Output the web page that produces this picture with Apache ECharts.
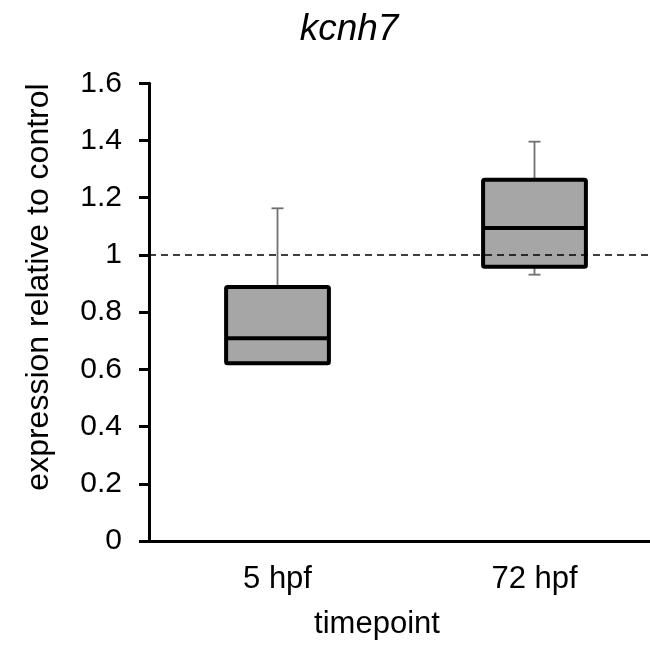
<!DOCTYPE html>
<html>
<head>
<meta charset="utf-8">
<script src="https://cdn.jsdelivr.net/npm/echarts@6/dist/echarts.min.js"></script>
<style>html,body{margin:0;padding:0;background:#fff;}#c{width:650px;height:647px;}</style>
</head>
<body>
<div id="c"></div>
<script>
const categories = ['5 hpf', '72 hpf'];
const whiskerLow = [0.619, 0.931];
const q1 = [0.621, 0.959];
const median = [0.709, 1.094];
const q3 = [0.888, 1.263];
const whiskerHigh = [1.163, 1.396];
const yTicks = [0, 0.2, 0.4, 0.6, 0.8, 1, 1.2, 1.4, 1.6];
const referenceLevel = 1;

const FONT = 'Liberation Sans, Arial, sans-serif';
const chart = echarts.init(document.getElementById('c'), null, {renderer: 'canvas'});

const data = categories.map((c, i) => [i, whiskerLow[i], q1[i], median[i], q3[i], whiskerHigh[i]]);

function renderItem(params, api) {
  const idx = api.value(0);
  const band = api.size([1, 0])[0];
  const half = band * 0.2;
  const cap = 6;
  const pLow = api.coord([idx, api.value(1)]);
  const pQ1 = api.coord([idx, api.value(2)]);
  const pMed = api.coord([idx, api.value(3)]);
  const pQ3 = api.coord([idx, api.value(4)]);
  const pHigh = api.coord([idx, api.value(5)]);
  const x = pMed[0];
  const wStyle = {stroke: '#707070', lineWidth: 1.8};
  const bStyle = {stroke: '#000', lineWidth: 4};
  return {
    type: 'group',
    children: [
      {type: 'line', shape: {x1: x, y1: pQ3[1], x2: x, y2: pHigh[1]}, style: wStyle},
      {type: 'line', shape: {x1: x - cap, y1: pHigh[1], x2: x + cap, y2: pHigh[1]}, style: wStyle},
      {type: 'line', shape: {x1: x, y1: pQ1[1], x2: x, y2: pLow[1]}, style: wStyle},
      {type: 'line', shape: {x1: x - cap, y1: pLow[1], x2: x + cap, y2: pLow[1]}, style: wStyle},
      {type: 'rect', shape: {x: x - half, y: pQ3[1], width: half * 2, height: pQ1[1] - pQ3[1], r: 1.5},
        style: {fill: '#a6a6a6', stroke: '#000', lineWidth: 4}},
      {type: 'line', shape: {x1: x - half, y1: pMed[1], x2: x + half, y2: pMed[1]}, style: bStyle}
    ]
  };
}

chart.setOption({
  animation: false,
  backgroundColor: '#fff',
  grid: {left: 149, top: 83.3, width: 514, height: 457.7, containLabel: false, outerBoundsMode: 'none'},
  xAxis: {
    type: 'category',
    data: categories,
    boundaryGap: true,
    axisLine: {lineStyle: {color: '#000', width: 3}},
    axisTick: {show: false},
    axisLabel: {color: '#000', fontSize: 31, fontFamily: FONT, margin: 23},
    splitLine: {show: false}
  },
  yAxis: {
    type: 'value',
    min: 0, max: 1.6, interval: 0.2,
    axisLine: {show: true, lineStyle: {color: '#000', width: 3}},
    axisTick: {show: true, length: 10, lineStyle: {color: '#000', width: 3}},
    axisLabel: {color: '#000', fontSize: 30, fontFamily: FONT, margin: 27,
      formatter: v => {
        const t = yTicks.find(k => Math.abs(k - v) < 1e-9);
        return t === undefined ? '' : String(+t.toFixed(1));
      }},
    splitLine: {show: false}
  },
  graphic: [
    {type: 'text', x: 349, y: 30, style: {text: 'kcnh7', fontSize: 37, fontStyle: 'italic', fontFamily: FONT, fill: '#000', x: 0, y: 0, align: 'center', verticalAlign: 'middle'}},
    {type: 'text', x: 377, y: 624, style: {text: 'timepoint', fontSize: 31, fontFamily: FONT, fill: '#000', x: 0, y: 0, align: 'center', verticalAlign: 'middle'}},
    {type: 'text', x: 39, y: 287, rotation: Math.PI / 2, style: {text: 'expression relative to control', fontSize: 32, fontFamily: FONT, fill: '#000', x: 0, y: 0, align: 'center', verticalAlign: 'middle'}}
  ],
  series: [{
    type: 'custom',
    renderItem: renderItem,
    data: data,
    encode: {x: 0, y: [1, 2, 3, 4, 5]},
    z: 3,
    markLine: {
      silent: true,
      symbol: 'none',
      label: {show: false},
      lineStyle: {color: '#000', width: 1.6, type: [7, 5]},
      data: [{yAxis: referenceLevel}]
    }
  }]
});
</script>
</body>
</html>
